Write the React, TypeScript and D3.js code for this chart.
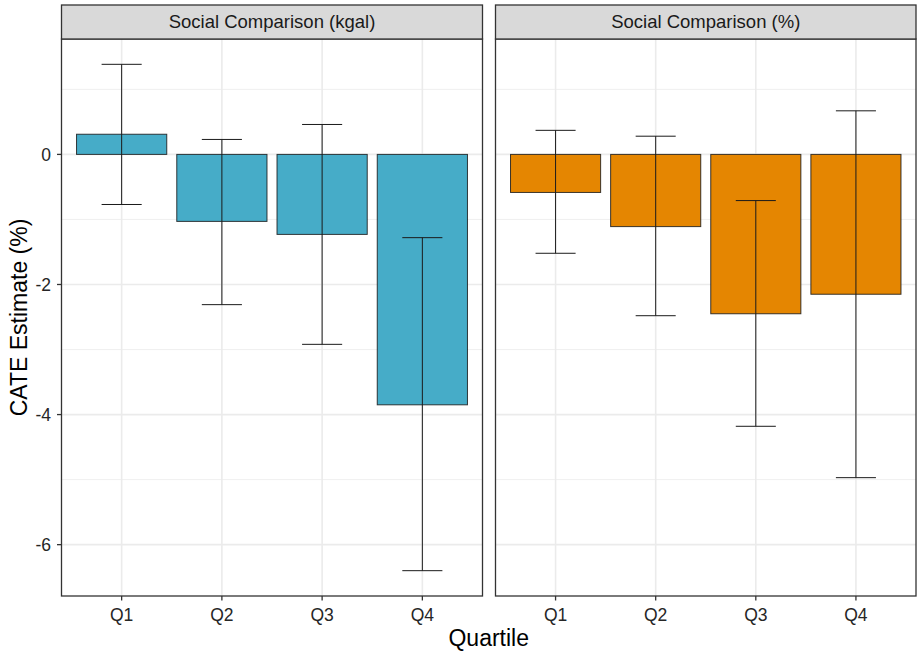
import React from "react";
import * as d3 from "d3";

const quartiles = ["Q1", "Q2", "Q3", "Q4"];
const panels = ["Social Comparison (kgal)", "Social Comparison (%)"];
const panelColors = ["#46ACC8", "#E58601"];
const estKgal = [0.31, -1.03, -1.23, -3.85];
const lowKgal = [-0.77, -2.31, -2.92, -6.40];
const highKgal = [1.385, 0.23, 0.46, -1.28];
const estPct = [-0.585, -1.11, -2.45, -2.15];
const lowPct = [-1.52, -2.48, -4.18, -4.97];
const highPct = [0.37, 0.28, -0.71, 0.67];
const yTicks = [0, -2, -4, -6];
const yMinor = [1, -1, -3, -5];

const W = 917;
const H = 655;
const FONT = "'Liberation Sans', Arial, Helvetica, sans-serif";

export default function App() {
  const stripTop = 5;
  const stripBottom = 39;
  const panelBottom = 596;
  const panelX = [[61.5, 482.5], [495.5, 916]];

  const all = [...lowKgal, ...highKgal, ...lowPct, ...highPct, ...estKgal, ...estPct, 0];
  const mn = d3.min(all)!;
  const mx = d3.max(all)!;
  const pad = (mx - mn) * 0.05;
  const y = d3.scaleLinear().domain([mn - pad, mx + pad]).range([panelBottom, stripBottom]);

  const data = [
    { est: estKgal, low: lowKgal, high: highKgal },
    { est: estPct, low: lowPct, high: highPct },
  ];

  return (
    <svg width={W} height={H} style={{ display: "block", position: "absolute", left: 0, top: 0 }} fontFamily={FONT}>
      <rect x={0} y={0} width={W} height={H} fill="#fff" />
      {panels.map((title, pi) => {
        const [x0, x1] = panelX[pi];
        const x = d3.scalePoint<string>().domain(quartiles).range([x0, x1]).padding(0.6);
        const step = x.step();
        const bw = step * 0.9;
        const ew = step * 0.4;
        const d = data[pi];
        return (
          <g key={pi}>
            {yMinor.map((v) => (
              <line key={"mn" + v} x1={x0} x2={x1} y1={y(v)} y2={y(v)} stroke="#EBEBEB" strokeWidth={0.8} />
            ))}
            {yTicks.map((v) => (
              <line key={"mj" + v} x1={x0} x2={x1} y1={y(v)} y2={y(v)} stroke="#EBEBEB" strokeWidth={1.6} />
            ))}
            {quartiles.map((q) => (
              <line key={"vx" + q} x1={x(q)} x2={x(q)} y1={stripBottom} y2={panelBottom} stroke="#EBEBEB" strokeWidth={1.6} />
            ))}
            {quartiles.map((q, i) => {
              const v = d.est[i];
              const yt = Math.min(y(v), y(0));
              const h = Math.abs(y(v) - y(0));
              return (
                <rect key={"b" + q} x={x(q)! - bw / 2} y={yt} width={bw} height={h}
                  fill={panelColors[pi]} stroke="#1a1a1a" strokeOpacity={0.85} strokeWidth={1} />
              );
            })}
            {quartiles.map((q, i) => {
              const cx = x(q)!;
              return (
                <g key={"e" + q} stroke="#1a1a1a" strokeWidth={1}>
                  <line x1={cx} x2={cx} y1={y(d.high[i])} y2={y(d.low[i])} />
                  <line x1={cx - ew / 2} x2={cx + ew / 2} y1={y(d.high[i])} y2={y(d.high[i])} />
                  <line x1={cx - ew / 2} x2={cx + ew / 2} y1={y(d.low[i])} y2={y(d.low[i])} />
                </g>
              );
            })}
            <rect x={x0} y={stripBottom} width={x1 - x0} height={panelBottom - stripBottom} fill="none" stroke="#333333" strokeWidth={1.3} />
            <rect x={x0} y={stripTop} width={x1 - x0} height={stripBottom - stripTop} fill="#D9D9D9" stroke="#333333" strokeWidth={1.3} />
            <text x={(x0 + x1) / 2} y={(stripTop + stripBottom) / 2} dy="0.35em" textAnchor="middle" fontSize={18.5} fill="#1A1A1A">{title}</text>
            {quartiles.map((q) => (
              <g key={"xt" + q}>
                <line x1={x(q)} x2={x(q)} y1={panelBottom} y2={panelBottom + 4.5} stroke="#333333" strokeWidth={1.3} />
                <text x={x(q)} y={620.5} textAnchor="middle" fontSize={17.5} fill="#262626">{q}</text>
              </g>
            ))}
          </g>
        );
      })}
      {yTicks.map((v) => (
        <g key={"yt" + v}>
          <line x1={57} x2={61.5} y1={y(v)} y2={y(v)} stroke="#333333" strokeWidth={1.3} />
          <text x={51} y={y(v)} dy="0.35em" textAnchor="end" fontSize={17.5} fill="#262626">{v === 0 ? "0" : "-" + Math.abs(v)}</text>
        </g>
      ))}
      <text transform={`translate(27, ${(stripBottom + panelBottom) / 2}) rotate(-90)`} textAnchor="middle" fontSize={23} fill="#000">CATE Estimate (%)</text>
      <text x={(61.5 + 916) / 2} y={645.5} textAnchor="middle" fontSize={23} fill="#000">Quartile</text>
    </svg>
  );
}
